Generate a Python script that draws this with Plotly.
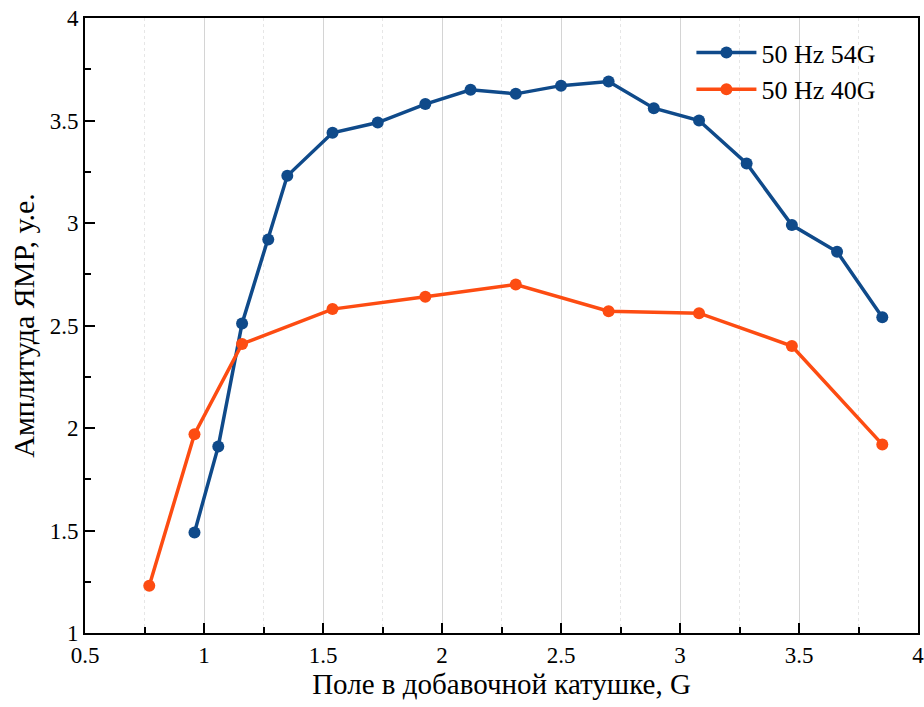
import plotly.graph_objects as go

x_blue = [0.96, 1.06, 1.16, 1.27, 1.35, 1.54, 1.73, 1.93, 2.12, 2.31, 2.50, 2.70, 2.89, 3.08, 3.28, 3.47, 3.66, 3.85]
y_blue = [1.49, 1.91, 2.51, 2.92, 3.23, 3.44, 3.49, 3.58, 3.65, 3.63, 3.67, 3.69, 3.56, 3.50, 3.29, 2.99, 2.86, 2.54]

x_orange = [0.77, 0.96, 1.16, 1.54, 1.93, 2.31, 2.70, 3.08, 3.47, 3.85]
y_orange = [1.23, 1.97, 2.41, 2.58, 2.64, 2.70, 2.57, 2.56, 2.40, 1.92]

name_blue = "50 Hz 54G"
name_orange = "50 Hz 40G"
x_title = "Поле в добавочной катушке, G"
y_title = "Амплитуда ЯМР, у.е."

BLUE = "#0f4a8a"
ORANGE = "#fd4c12"
FONT = "Liberation Serif"

fig = go.Figure()
fig.add_trace(go.Scatter(x=x_blue, y=y_blue, mode="lines+markers", name=name_blue,
                         line=dict(color=BLUE, width=3.5), marker=dict(color=BLUE, size=12)))
fig.add_trace(go.Scatter(x=x_orange, y=y_orange, mode="lines+markers", name=name_orange,
                         line=dict(color=ORANGE, width=3.5), marker=dict(color=ORANGE, size=12)))

fig.update_layout(
    width=924, height=707,
    margin=dict(l=85, r=6, t=18, b=74),
    paper_bgcolor="white", plot_bgcolor="white",
    font=dict(family=FONT, size=23, color="black"),
    showlegend=True,
    legend=dict(x=0.728, y=0.982, xanchor="left", yanchor="top",
                bgcolor="rgba(0,0,0,0)", font=dict(size=26, family=FONT),
                itemwidth=60, tracegroupgap=0),
)
fig.update_xaxes(
    range=[0.5, 4], dtick=0.5, tick0=0.5, automargin=False, ticklabeloverflow="allow",
    showline=True, linecolor="black", linewidth=2, mirror=True,
    ticks="inside", ticklen=10, tickwidth=2, tickcolor="black",
    showgrid=True, gridcolor="#d4d4d4", gridwidth=1,
    minor=dict(dtick=0.25, ticks="inside", ticklen=6, tickwidth=2, tickcolor="black",
               showgrid=True, gridcolor="#e6e6e6", griddash="dot", gridwidth=1),
    zeroline=False,
    title=dict(text=x_title, font=dict(size=29, family=FONT), standoff=6),
    tickfont=dict(size=23, family=FONT),
)
fig.update_yaxes(
    range=[1, 4], dtick=0.5, tick0=1, automargin=False, ticklabeloverflow="allow",
    showline=True, linecolor="black", linewidth=2, mirror=True,
    ticks="inside", ticklen=10, tickwidth=2, tickcolor="black",
    showgrid=False,
    minor=dict(dtick=0.25, ticks="inside", ticklen=6, tickwidth=2, tickcolor="black", showgrid=False),
    zeroline=False,
    title=dict(text=y_title, font=dict(size=30, family=FONT), standoff=6),
    tickfont=dict(size=23, family=FONT),
)

fig.write_html("out.html")
